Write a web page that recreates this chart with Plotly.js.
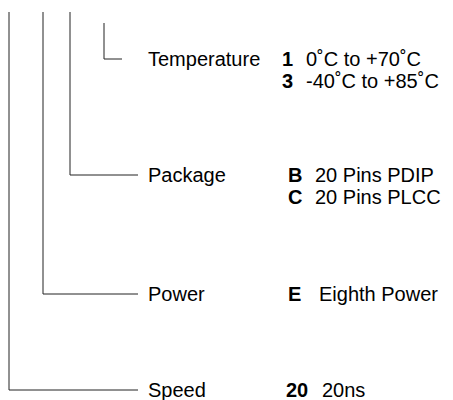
<!DOCTYPE html>
<html>
<head>
<meta charset="utf-8">
<script src="https://cdn.plot.ly/plotly-3.0.1.min.js"></script>
<style>html,body{margin:0;padding:0;background:#fff;}#chart{width:453px;height:400px;}</style>
</head>
<body>
<div id="chart"></div>
<script>
// ---- data ----
const fields = ["Temperature", "Package", "Power", "Speed"];
const optionCodes = [["1", "3"], ["B", "C"], ["E"], ["20"]];
const optionDescs = [["0˚C to +70˚C", "-40˚C to +85˚C"], ["20 Pins PDIP", "20 Pins PLCC"], ["Eighth Power"], ["20ns"]];

// ---- layout geometry (positions, not data) ----
const rowY = [59, 175, 294, 390];
const stemX = [104, 70, 43, 9];
const stemTop = [23, 12, 12, 12];
const lineEnd = [122, 138, 138, 138];
const labelX = 147;
const codeX = [281, 287, 287, 285];
const descX = [305, 314, 318, 321];
const lineGap = 22;

const traces = [];
const annotations = [];
const font = {family: "Liberation Sans, Arial, sans-serif", size: 20, color: "#000"};
fields.forEach((f, i) => {
  traces.push({
    type: "scatter", mode: "lines",
    x: [stemX[i], stemX[i], lineEnd[i]],
    y: [stemTop[i], rowY[i], rowY[i]],
    line: {color: "#222", width: 1},
    hoverinfo: "skip", showlegend: false
  });
  annotations.push({x: labelX, y: rowY[i], text: f, xanchor: "left", yanchor: "middle", showarrow: false, font: font, borderpad: 0});
  optionCodes[i].forEach((c, j) => {
    const y = rowY[i] + j * lineGap;
    annotations.push({x: codeX[i], y: y, text: "<b>" + c + "</b>", xanchor: "left", yanchor: "middle", showarrow: false, font: font, borderpad: 0});
    annotations.push({x: descX[i], y: y, text: optionDescs[i][j], xanchor: "left", yanchor: "middle", showarrow: false, font: font, borderpad: 0});
  });
});

const layout = {
  width: 453, height: 400,
  margin: {l: 0, r: 0, t: 0, b: 0},
  paper_bgcolor: "#fff", plot_bgcolor: "#fff",
  xaxis: {range: [0, 453], visible: false, fixedrange: true},
  yaxis: {range: [400, 0], visible: false, fixedrange: true},
  annotations: annotations,
  showlegend: false
};
Plotly.newPlot("chart", traces, layout, {staticPlot: true, displayModeBar: false});
</script>
</body>
</html>
